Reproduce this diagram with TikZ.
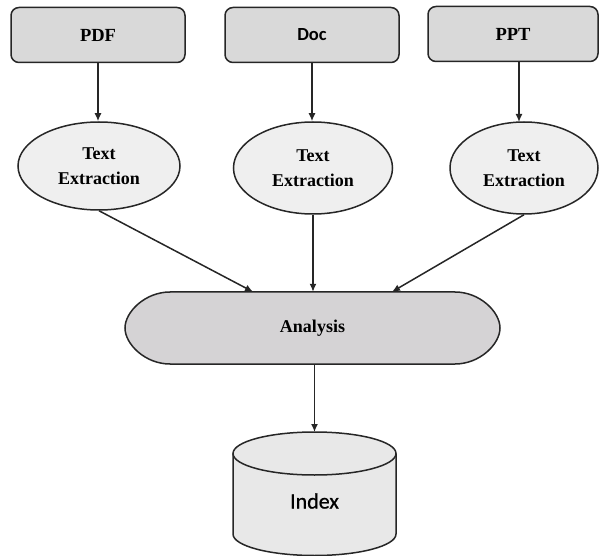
\documentclass[tikz,border=0pt]{standalone}
\usepackage{fontspec}
\setmainfont{Liberation Serif}
\newfontfamily\carlito{Carlito}
\newfontfamily\carlitoM[FakeBold=0.8]{Carlito}
\usetikzlibrary{shapes.geometric,arrows.meta}
\definecolor{boxgray}{HTML}{D9D9D9}
\definecolor{ellgray}{HTML}{EFEFEF}
\definecolor{anagray}{HTML}{D5D3D5}
\definecolor{cylgray}{HTML}{E8E8E8}
\tikzset{
  srcbox/.style={draw=black!85, line width=1.5pt, fill=boxgray, rounded corners=8pt,
    minimum width=174pt, minimum height=55pt, inner sep=0pt,
    font=\fontsize{18.5}{22}\selectfont\bfseries},
  extell/.style={draw=black!85, line width=1.5pt, fill=ellgray, ellipse,
    minimum width=160pt, minimum height=90pt, inner sep=0pt, align=center,
    font=\fontsize{18}{25}\selectfont\bfseries},
  conn/.style={line width=1.5pt, draw=black!85, -{Latex[length=8pt,width=7pt]}},
  shapeline/.style={line width=1.5pt, draw=black!85}
}
\begin{document}
\begin{tikzpicture}[x=1pt,y=-1pt]
\useasboundingbox (0,0) rectangle (600,556);
% source boxes
\node[srcbox] (pdf) at (98,35) {PDF};
\node[srcbox, font=\fontsize{18.5}{22}\selectfont\carlito\bfseries] (doc) at (312,35) {Doc};
\node[srcbox, minimum width=170pt] (ppt) at (513,34) {PPT};
% ellipses
\node[extell, minimum width=162pt, minimum height=88pt] (e1) at (99,166) {Text\\Extraction};
\node[extell, minimum width=159pt, minimum height=92pt] (e2) at (313,168) {Text\\Extraction};
\node[extell, minimum width=148pt, minimum height=92pt] (e3) at (524,168) {Text\\Extraction};
% analysis
\fill[anagray] (170,292) -- (455,292)
  .. controls (479.9,292) and (500,311.9) .. (500,328)
  .. controls (500,344.1) and (479.9,364) .. (455,364)
  -- (170,364)
  .. controls (145.1,364) and (125,344.1) .. (125,328)
  .. controls (125,311.9) and (145.1,292) .. (170,292) -- cycle;
\draw[shapeline] (170,292) -- (455,292)
  .. controls (479.9,292) and (500,311.9) .. (500,328)
  .. controls (500,344.1) and (479.9,364) .. (455,364)
  -- (170,364)
  .. controls (145.1,364) and (125,344.1) .. (125,328)
  .. controls (125,311.9) and (145.1,292) .. (170,292) -- cycle;
\node[minimum width=375pt, minimum height=72pt, inner sep=0pt,
  font=\fontsize{18}{22}\selectfont\bfseries] (ana) at (312.5,328) {Analysis};
% cylinder
\fill[cylgray] (233,453.5) rectangle (396,534);
\fill[cylgray] (314.5,534) ellipse [x radius=81.5, y radius=21.5];
\draw[shapeline] (233,453.5) -- (233,534)
  .. controls (233,545.9) and (269.5,555.5) .. (314.5,555.5)
  .. controls (359.5,555.5) and (396,545.9) .. (396,534) -- (396,453.5);
\draw[shapeline, fill=cylgray] (314.5,453.5) ellipse [x radius=81.5, y radius=21.5];
\coordinate (idxtop) at (314.5,432);
\node[font=\fontsize{22}{26}\selectfont\carlitoM] (idx) at (314.5,501) {Index};
% connectors
\draw[conn] (pdf.south) -- (pdf.south |- e1.north);
\draw[conn] (doc.south) -- (doc.south |- e2.north);
\draw[conn] (ppt.south -| 519,0) -- (519,122);
\draw[conn] (e1.south) -- ([xshift=-59.5pt]ana.north);
\draw[conn] (e2.south) -- (e2.south |- ana.north);
\draw[conn] (e3.south) -- ([xshift=79.5pt]ana.north);
\draw[conn] (ana.south -| idxtop) -- (idxtop);
\end{tikzpicture}
\end{document}
